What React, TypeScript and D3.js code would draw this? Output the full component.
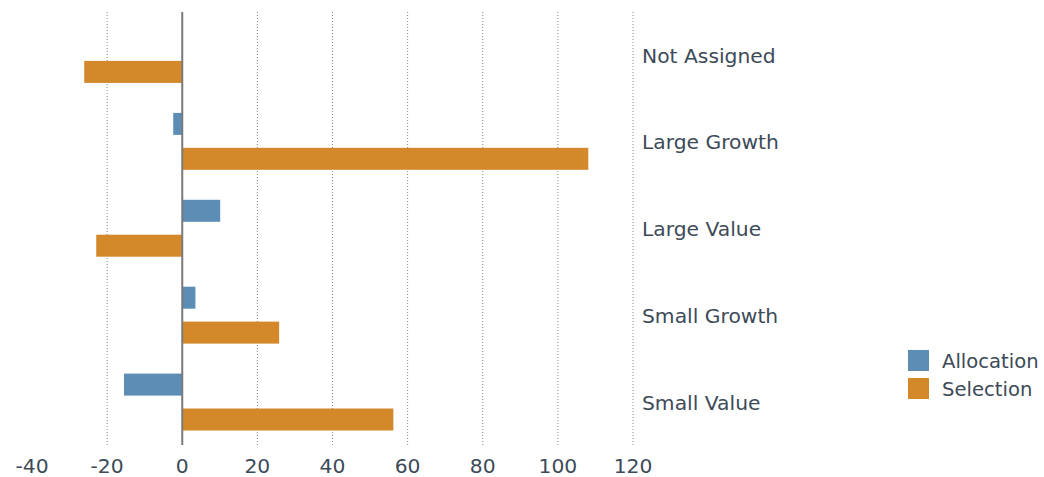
import { useEffect, useRef } from 'react'
import * as d3 from 'd3'

const categories = ['Not Assigned', 'Large Growth', 'Large Value', 'Small Growth', 'Small Value']
const seriesNames = ['Allocation', 'Selection']
const allocation = [0, -2.4, 10.1, 3.5, -15.5]
const selection = [-26.1, 108.1, -22.9, 25.8, 56.2]
const xTicks = [-40, -20, 0, 20, 40, 60, 80, 100, 120]
const colors = ['#5b8db5', '#d3882a']

export default function App() {
  const svgRef = useRef<SVGSVGElement>(null)

  useEffect(() => {
    const width = 1044, height = 477
    const svg = d3.select(svgRef.current)
    svg.selectAll('*').remove()
    svg.attr('width', width).attr('height', height)
      .style('font-family', '"DejaVu Sans", Verdana, sans-serif')

    const textColor = '#3d4a57'
    const x = d3.scaleLinear().domain([-40, 120]).range([32, 633])
    const y0 = d3.scaleBand<string>().domain(categories).range([11, 445.5])
      .paddingInner(0.345).paddingOuter(0.1725)
    const y1 = d3.scaleBand<string>().domain(seriesNames).range([0, y0.bandwidth()])
      .paddingInner(0.37).paddingOuter(0)

    // gridlines
    svg.append('g').selectAll('line')
      .data(xTicks.filter(t => t !== -40 && t !== 0))
      .enter().append('line')
      .attr('x1', d => x(d)).attr('x2', d => x(d))
      .attr('y1', 12).attr('y2', 445)
      .attr('stroke', '#888')
      .attr('stroke-width', 1)
      .attr('stroke-dasharray', '1 2')

    // bars
    const rows = categories.map((c, i) => ({ cat: c, vals: [allocation[i], selection[i]] }))
    const groups = svg.append('g').selectAll('g')
      .data(rows).enter().append('g')
      .attr('transform', d => `translate(0,${y0(d.cat)})`)
    groups.selectAll('rect')
      .data(d => d.vals.map((v, j) => ({ v, s: seriesNames[j], j })))
      .enter().append('rect')
      .filter(d => d.v !== 0)
      .attr('x', d => Math.min(x(0), x(d.v)))
      .attr('width', d => Math.abs(x(d.v) - x(0)))
      .attr('y', d => y1(d.s)!)
      .attr('height', y1.bandwidth())
      .attr('fill', d => colors[d.j])

    // zero line
    svg.append('line')
      .attr('x1', x(0)).attr('x2', x(0))
      .attr('y1', 12).attr('y2', 445)
      .attr('stroke', '#7a7a7a').attr('stroke-width', 2)

    // category labels
    svg.append('g').selectAll('text')
      .data(categories).enter().append('text')
      .attr('x', 642)
      .attr('y', d => y0(d)! + y0.bandwidth() / 2 + 1)
      .attr('dy', '0.35em')
      .attr('font-size', 20.3)
      .attr('fill', textColor)
      .text(d => d)

    // x tick labels
    svg.append('g').selectAll('text')
      .data(xTicks).enter().append('text')
      .attr('x', d => x(d))
      .attr('y', 465.5)
      .attr('dy', '0.35em')
      .attr('text-anchor', 'middle')
      .attr('font-size', 20.3)
      .attr('fill', textColor)
      .text(d => d)

    // legend
    const legend = svg.append('g').selectAll('g')
      .data(seriesNames).enter().append('g')
      .attr('transform', (d, i) => `translate(908,${350 + i * 28})`)
    legend.append('rect')
      .attr('width', 21).attr('height', 21)
      .attr('fill', (d, i) => colors[i])
    legend.append('text')
      .attr('x', 34).attr('y', 11.5)
      .attr('dy', '0.35em')
      .attr('font-size', 19.6)
      .attr('fill', textColor)
      .text(d => d)
  }, [])

  return (
    <div style={{ position: 'absolute', left: 0, top: 0 }}>
      <svg ref={svgRef} style={{ display: 'block' }} />
    </div>
  )
}
